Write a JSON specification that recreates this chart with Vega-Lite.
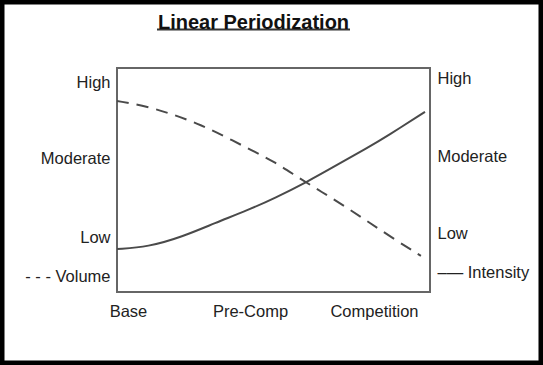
{
  "$schema": "https://vega.github.io/schema/vega-lite/v6.json",
  "width": 313,
  "height": 224,
  "autosize": {"type": "none"},
  "padding": {"left": 117, "right": 113, "top": 68, "bottom": 73},
  "background": "white",
  "title": {"text": "Linear Periodization", "font": "Liberation Sans", "fontSize": 20, "fontWeight": "bold", "color": "#111", "anchor": "middle", "frame": "group", "dx": -20, "offset": -54, "baseline": "alphabetic"},
  "datasets": {
    "volume": [
      {"x": 0, "y": 0.853}, {"x": 0.099, "y": 0.828}, {"x": 0.185, "y": 0.79}, {"x": 0.268, "y": 0.746},
      {"x": 0.348, "y": 0.692}, {"x": 0.428, "y": 0.634}, {"x": 0.505, "y": 0.58}, {"x": 0.581, "y": 0.509},
      {"x": 0.655, "y": 0.446}, {"x": 0.732, "y": 0.379}, {"x": 0.808, "y": 0.308}, {"x": 0.885, "y": 0.237},
      {"x": 0.971, "y": 0.161}
    ],
    "intensity": [
      {"x": 0, "y": 0.192}, {"x": 0.099, "y": 0.201}, {"x": 0.208, "y": 0.246}, {"x": 0.313, "y": 0.308},
      {"x": 0.419, "y": 0.366}, {"x": 0.505, "y": 0.42}, {"x": 0.607, "y": 0.491}, {"x": 0.703, "y": 0.567},
      {"x": 0.799, "y": 0.643}, {"x": 0.863, "y": 0.696}, {"x": 0.984, "y": 0.804}
    ],
    "frame": [{"x": -0.3738, "x2": 1.361, "y": 1.3036, "y2": -0.3259}],
    "underline": [{"x": 0.1278, "x2": 0.7444, "y": 1.1719}]
  },
  "layer": [
    {
      "data": {"name": "volume"},
      "mark": {"type": "line", "interpolate": "basis", "strokeDash": [12, 8], "color": "#4a4a4a", "strokeWidth": 2},
      "encoding": {
        "x": {"field": "x", "type": "quantitative", "scale": {"domain": [0, 1], "nice": false, "zero": false},
          "axis": {"title": null, "values": [0.035, 0.425, 0.821], "labelExpr": "datum.value < 0.2 ? 'Base' : datum.value < 0.6 ? 'Pre-Comp' : 'Competition'",
            "domain": false, "ticks": false, "tickSize": 0, "grid": false, "labelPadding": 11, "labelFont": "Liberation Sans", "labelFontSize": 16.5, "labelColor": "#222", "labelBaseline": "top", "labelFlush": false, "labelOverlap": false, "labelBound": false}},
        "y": {"field": "y", "type": "quantitative", "scale": {"domain": [0, 1], "nice": false, "zero": false},
          "axis": {"orient": "left", "title": null, "values": [0.935, 0.596, 0.243, 0.071], "labelExpr": "datum.value > 0.8 ? 'High' : datum.value > 0.45 ? 'Moderate' : datum.value > 0.15 ? 'Low' : '- - - Volume'",
            "domain": false, "ticks": false, "tickSize": 0, "grid": false, "labelPadding": 7, "labelFont": "Liberation Sans", "labelFontSize": 16.5, "labelColor": "#222", "labelFlush": false, "labelOverlap": false, "labelBound": false}}
      }
    },
    {
      "data": {"name": "intensity"},
      "mark": {"type": "line", "interpolate": "basis", "color": "#4a4a4a", "strokeWidth": 2},
      "encoding": {
        "x": {"field": "x", "type": "quantitative", "scale": {"domain": [0, 1], "nice": false, "zero": false},
          "axis": {"title": null, "values": [0.035, 0.425, 0.821], "labelExpr": "datum.value < 0.2 ? 'Base' : datum.value < 0.6 ? 'Pre-Comp' : 'Competition'",
            "domain": false, "ticks": false, "tickSize": 0, "grid": false, "labelPadding": 11, "labelFont": "Liberation Sans", "labelFontSize": 16.5, "labelColor": "#222", "labelBaseline": "top", "labelFlush": false, "labelOverlap": false, "labelBound": false}},
        "y": {"field": "y", "type": "quantitative", "scale": {"domain": [0, 1], "nice": false, "zero": false},
          "axis": {"orient": "right", "title": null, "values": [0.951, 0.605, 0.259, 0.085], "labelExpr": "datum.value > 0.8 ? 'High' : datum.value > 0.45 ? 'Moderate' : datum.value > 0.15 ? 'Low' : '–— Intensity'",
            "domain": false, "ticks": false, "tickSize": 0, "grid": false, "labelPadding": 7, "labelFont": "Liberation Sans", "labelFontSize": 16.5, "labelColor": "#222", "labelFlush": false, "labelOverlap": false, "labelBound": false}}
      }
    },
    {
      "data": {"name": "frame"},
      "mark": {"type": "rect", "fill": null, "fillOpacity": 0, "stroke": "#000", "strokeWidth": 9, "clip": false},
      "encoding": {
        "x": {"field": "x", "type": "quantitative", "scale": {"domain": [0, 1], "nice": false, "zero": false},
          "axis": {"title": null, "values": [0.035, 0.425, 0.821], "labelExpr": "datum.value < 0.2 ? 'Base' : datum.value < 0.6 ? 'Pre-Comp' : 'Competition'",
            "domain": false, "ticks": false, "tickSize": 0, "grid": false, "labelPadding": 11, "labelFont": "Liberation Sans", "labelFontSize": 16.5, "labelColor": "#222", "labelBaseline": "top", "labelFlush": false, "labelOverlap": false, "labelBound": false}},
        "x2": {"field": "x2"},
        "y": {"field": "y", "type": "quantitative", "scale": {"domain": [0, 1], "nice": false, "zero": false}, "axis": null},
        "y2": {"field": "y2"}
      }
    },
    {
      "data": {"name": "underline"},
      "mark": {"type": "rule", "color": "#333", "strokeWidth": 2, "clip": false},
      "encoding": {
        "x": {"field": "x", "type": "quantitative", "scale": {"domain": [0, 1], "nice": false, "zero": false},
          "axis": {"title": null, "values": [0.035, 0.425, 0.821], "labelExpr": "datum.value < 0.2 ? 'Base' : datum.value < 0.6 ? 'Pre-Comp' : 'Competition'",
            "domain": false, "ticks": false, "tickSize": 0, "grid": false, "labelPadding": 11, "labelFont": "Liberation Sans", "labelFontSize": 16.5, "labelColor": "#222", "labelBaseline": "top", "labelFlush": false, "labelOverlap": false, "labelBound": false}},
        "x2": {"field": "x2"},
        "y": {"field": "y", "type": "quantitative", "scale": {"domain": [0, 1], "nice": false, "zero": false}, "axis": null}
      }
    }
  ],
  "resolve": {"axis": {"y": "independent"}},
  "config": {"view": {"stroke": "#666", "strokeWidth": 2}, "font": "Liberation Sans"}
}
